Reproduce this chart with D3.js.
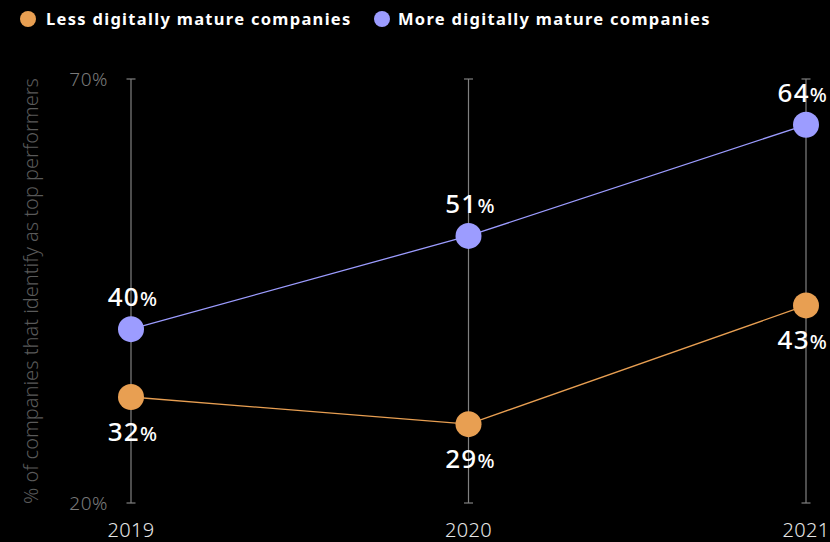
<!DOCTYPE html>
<html><head><meta charset="utf-8">
<script src="https://cdn.jsdelivr.net/npm/d3@7"></script>
<style>body{margin:0;background:#000;}svg{display:block;}</style>
</head><body>
<svg id="c" width="830" height="542"></svg>
<script>
const years = ["2019", "2020", "2021"];
const lessValues = [32.5, 29.3, 43.3];
const moreValues = [40.5, 51.5, 64.6];
const lessLabels = ["32", "29", "43"];
const moreLabels = ["40", "51", "64"];
const yTicks = [20, 70];
const seriesNames = ["Less digitally mature companies", "More digitally mature companies"];
const colors = ["#E89F52", "#9C9CFF"];
const yTitle = "% of companies that identify as top performers";

const svg = d3.select("#c");
const font = "'Noto Sans', 'Open Sans', sans-serif";
const x = d3.scalePoint().domain(years).range([131, 806]);
const y = d3.scaleLinear().domain([20, 70]).range([503, 79]);

svg.append("rect").attr("width", 830).attr("height", 542).attr("fill", "#000");

// vertical axes
years.forEach(yr => {
  const g = svg.append("g").attr("transform", `translate(${x(yr)},0)`);
  g.append("line").attr("y1", y(70)).attr("y2", y(20)).attr("stroke", "#808080").attr("stroke-width", 1.2);
  g.selectAll("line.cap").data(yTicks).join("line").attr("class", "cap")
    .attr("x1", -4.5).attr("x2", 4.5).attr("y1", d => y(d)).attr("y2", d => y(d))
    .attr("stroke", "#808080").attr("stroke-width", 1.2);
});

// y tick labels
svg.selectAll("text.ytick").data(yTicks).join("text").attr("class", "ytick")
  .attr("x", 108).attr("y", d => y(d)).attr("dy", "0.36em")
  .attr("text-anchor", "end").attr("fill", "#7a7a7a")
  .style("font-family", font).style("font-size", "19px").style("font-weight", 300)
  .style("letter-spacing", "0.5px")
  .text(d => d + "%");

// y title
svg.append("text").attr("transform", "translate(38,291) rotate(-90)")
  .attr("text-anchor", "middle").attr("fill", "#5a5a5a")
  .style("font-family", font).style("font-size", "20px").style("font-weight", 300)
  .text(yTitle);

// x labels
svg.selectAll("text.xl").data(years).join("text").attr("class", "xl")
  .attr("x", d => x(d)).attr("y", 537).attr("text-anchor", "middle")
  .attr("fill", "#e6e6e6").style("font-family", font).style("font-size", "20px").style("font-weight", 300)
  .style("letter-spacing", "0.3px")
  .text(d => d);

const line = d3.line().x((d, i) => x(years[i])).y(d => y(d));
const series = [
  {vals: lessValues, labels: lessLabels, color: colors[0], dy: 43.5},
  {vals: moreValues, labels: moreLabels, color: colors[1], dy: -23}
];
series.forEach(s => {
  svg.append("path").datum(s.vals).attr("d", line).attr("fill", "none")
    .attr("stroke", s.color).attr("stroke-width", 1.3);
  svg.selectAll(null).data(s.vals).join("circle")
    .attr("cx", (d, i) => x(years[i])).attr("cy", d => y(d)).attr("r", 13).attr("fill", s.color);
  const t = svg.selectAll(null).data(s.vals).join("text")
    .attr("x", (d, i) => x(years[i]) + 2).attr("y", d => y(d) + s.dy)
    .attr("text-anchor", "middle").attr("fill", "#fff")
    .style("font-family", font).style("font-weight", 500).style("letter-spacing", "1.2px");
  t.append("tspan").style("font-size", "26px").text((d, i) => s.labels[i]);
  t.append("tspan").style("font-size", "20px").text("%");
  t.each(function() {
    const w = this.getComputedTextLength();
    const cx = +this.getAttribute("x");
    if (cx + w / 2 > 828) this.setAttribute("x", 828 - w / 2);
  });
});

// legend
const leg = [{name: seriesNames[0], c: colors[0], cx: 28, tx: 46}, {name: seriesNames[1], c: colors[1], cx: 382, tx: 398}];
leg.forEach(l => {
  svg.append("circle").attr("cx", l.cx).attr("cy", 19).attr("r", 8).attr("fill", l.c);
  svg.append("text").attr("x", l.tx).attr("y", 19).attr("dy", "0.36em").attr("fill", "#fff")
    .style("font-family", font).style("font-size", "16.5px").style("font-weight", 700)
    .style("letter-spacing", "1.3px").text(l.name);
});
</script>
</body></html>
